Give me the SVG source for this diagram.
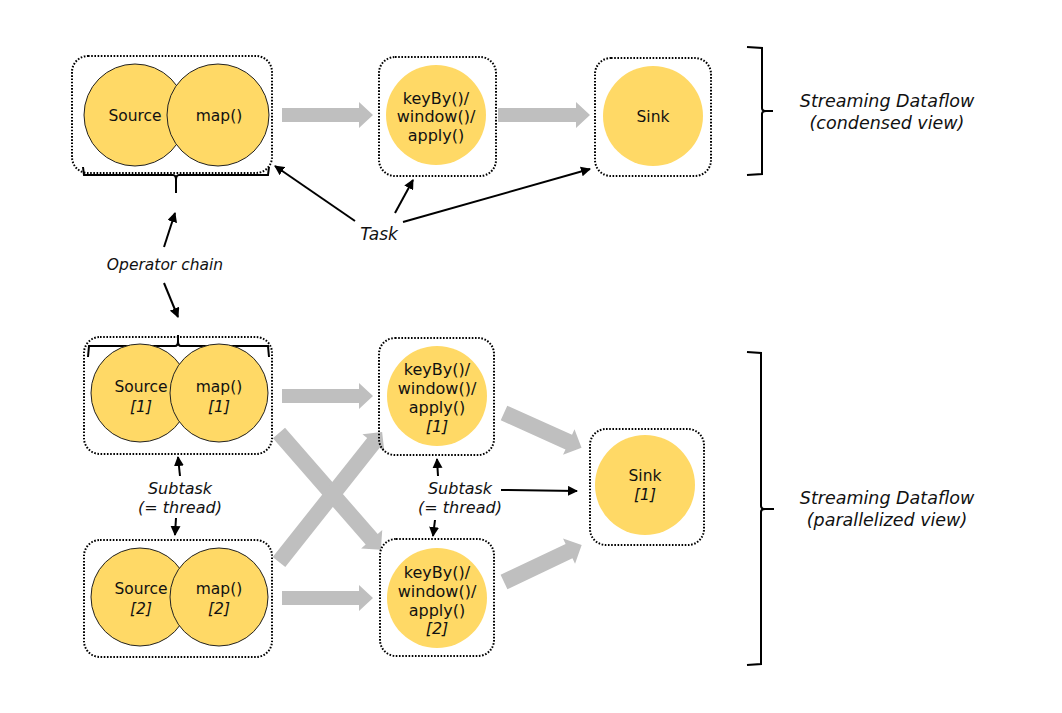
<svg xmlns="http://www.w3.org/2000/svg" width="1062" height="713" viewBox="0 0 1062 713">
<defs>
<style>
.box{fill:none;stroke:#000;stroke-width:2;stroke-dasharray:1.6 1.6}
.op{fill:#FFD966;stroke:#222;stroke-width:1}
.opn{fill:#FFD966;stroke:none}
.t{font-family:"DejaVu Sans",Verdana,sans-serif;font-size:15.5px;fill:#111;text-anchor:middle}
.k{font-family:"DejaVu Sans",Verdana,sans-serif;font-size:16px;fill:#111;text-anchor:middle}
.i{font-style:italic}
.lab{font-family:"DejaVu Sans",Verdana,sans-serif;font-style:italic;fill:#111;text-anchor:middle}
.ptr{fill:none;stroke:#000;stroke-width:2;marker-end:url(#ah)}
.brace{fill:none;stroke:#000;stroke-width:2}
.flow{fill:#BFBFBF}
</style>
<marker id="ah" viewBox="0 0 10 10" refX="9" refY="5" markerWidth="5" markerHeight="5" orient="auto" markerUnits="strokeWidth">
<path d="M0,0 L10,5 L0,10 z" fill="#000"/>
</marker>
</defs>
<rect width="1062" height="713" fill="#fff"/>

<g id="connectors">
<!-- gray dataflow arrows -->
<polygon class="flow" points="282,108 359,108 359,102 373,115 359,128 359,122 282,122"/>
<polygon class="flow" points="498,108 576,108 576,102 590,115 576,128 576,122 498,122"/>
<polygon class="flow" points="282,389 359,389 359,383 373,396 359,409 359,403 282,403"/>
<polygon class="flow" points="282,591 359,591 359,585 373,598 359,611 359,605 282,605"/>
<polygon class="flow" transform="translate(279,433) rotate(48.9)" points="0,-8 141,-8 141,-14 155,0 141,14 141,8 0,8"/>
<polygon class="flow" transform="translate(279,562) rotate(-51.6)" points="0,-8 152,-8 152,-14 166,0 152,14 152,8 0,8"/>
<polygon class="flow" transform="translate(504,413) rotate(24.2)" points="0,-8 71,-8 71,-14 85,0 71,14 71,8 0,8"/>
<polygon class="flow" transform="translate(504,582) rotate(-25.4)" points="0,-8 72,-8 72,-14 86,0 72,14 72,8 0,8"/>
<!-- annotation pointers -->
<line class="ptr" x1="355" y1="221" x2="275" y2="166"/>
<line class="ptr" x1="395" y1="213" x2="413" y2="180"/>
<line class="ptr" x1="403" y1="222" x2="590" y2="169"/>
<line class="ptr" x1="164" y1="247" x2="175" y2="213"/>
<line class="ptr" x1="164" y1="283" x2="178" y2="317"/>
<line class="ptr" x1="180" y1="476" x2="178" y2="457"/>
<line class="ptr" x1="176" y1="518" x2="175" y2="535"/>
<line class="ptr" x1="438" y1="476" x2="437" y2="459"/>
<line class="ptr" x1="435" y1="520" x2="433" y2="536"/>
<line class="ptr" x1="501" y1="490" x2="577" y2="491"/>
</g>

<g id="brace-chain-top">
<path class="brace" d="M83,167 L84,175 L173,175 Q176,175 176,180 L176,193 M176,180 Q176,175 179,175 L268,175 L269,167"/>
</g>
<g id="brace-chain-bottom">
<path class="brace" d="M88,357 L89,346 L175,346 Q178,346 178,341 L178,335 M178,341 Q178,346 181,346 L268,346 L269,357"/>
</g>
<g id="brace-condensed">
<path class="brace" d="M747,47 L762,48 L762,108 Q762,111 766,111 L773,111 M766,111 Q762,111 762,114 L762,174 L747,175"/>
</g>
<g id="brace-parallel">
<path class="brace" d="M747,352 L761,353 L761,506 Q761,509 765,509 L774,509 M765,509 Q761,509 761,512 L761,664 L747,665"/>
</g>

<g id="chain-top">
<rect class="box" x="72" y="56" width="200" height="117" rx="16"/>
<ellipse class="op" cx="135" cy="115" rx="51" ry="51"/>
<ellipse class="op" cx="218" cy="115" rx="51" ry="51"/>
<text class="t" x="135" y="121">Source</text>
<text class="t" x="219" y="121">map()</text>
</g>

<g id="keyby-top">
<rect class="box" x="379" y="57" width="117" height="119" rx="16"/>
<circle class="opn" cx="436" cy="115" r="50"/>
<text class="k" x="436" y="103.5">keyBy()/</text>
<text class="k" x="436" y="122">window()/</text>
<text class="k" x="436" y="140.5">apply()</text>
</g>

<g id="sink-top">
<rect class="box" x="595" y="58" width="116" height="118" rx="16"/>
<circle class="opn" cx="653" cy="116" r="50"/>
<text class="t" x="653" y="121.5">Sink</text>
</g>

<g id="label-condensed">
<text class="lab" font-size="17.5" x="887" y="107">Streaming Dataflow</text>
<text class="lab" font-size="17.5" x="887" y="129">(condensed view)</text>
</g>

<g id="label-task">
<text class="lab" font-size="17" x="379" y="240">Task</text>
</g>

<g id="label-opchain">
<text class="lab" font-size="15.5" x="165" y="270">Operator chain</text>
</g>

<g id="chain-1">
<rect class="box" x="84" y="337" width="188" height="117" rx="16"/>
<circle class="op" cx="140" cy="393" r="49"/>
<circle class="op" cx="219" cy="393" r="49"/>
<text class="t" x="141" y="392">Source</text>
<text class="t i" x="141" y="412">[1]</text>
<text class="t" x="219" y="392">map()</text>
<text class="t i" x="219" y="412">[1]</text>
</g>

<g id="chain-2">
<rect class="box" x="84" y="540" width="188" height="117" rx="16"/>
<circle class="op" cx="140" cy="597" r="49"/>
<circle class="op" cx="219" cy="597" r="49"/>
<text class="t" x="141" y="594">Source</text>
<text class="t i" x="141" y="614">[2]</text>
<text class="t" x="219" y="594">map()</text>
<text class="t i" x="219" y="614">[2]</text>
</g>

<g id="keyby-1">
<rect class="box" x="379" y="338" width="115" height="117" rx="16"/>
<circle class="opn" cx="437" cy="396" r="50"/>
<text class="k" x="437" y="375">keyBy()/</text>
<text class="k" x="437" y="394">window()/</text>
<text class="k" x="437" y="413">apply()</text>
<text class="k i" x="437" y="432">[1]</text>
</g>

<g id="keyby-2">
<rect class="box" x="380" y="539" width="114" height="117" rx="16"/>
<circle class="opn" cx="437" cy="598" r="50"/>
<text class="k" x="437" y="577.5">keyBy()/</text>
<text class="k" x="437" y="596.5">window()/</text>
<text class="k" x="437" y="615.5">apply()</text>
<text class="k i" x="437" y="634">[2]</text>
</g>

<g id="sink-1">
<rect class="box" x="590" y="429" width="114" height="116" rx="16"/>
<circle class="opn" cx="645" cy="485" r="50"/>
<text class="t" x="645" y="481">Sink</text>
<text class="t i" x="645" y="500">[1]</text>
</g>

<g id="label-subtask-left">
<text class="lab" font-size="16" x="180" y="494">Subtask</text>
<text class="lab" font-size="16" x="180" y="513">(= thread)</text>
</g>

<g id="label-subtask-mid">
<text class="lab" font-size="16" x="460" y="494">Subtask</text>
<text class="lab" font-size="16" x="460" y="513">(= thread)</text>
</g>

<g id="label-parallel">
<text class="lab" font-size="17.5" x="887" y="504">Streaming Dataflow</text>
<text class="lab" font-size="17.5" x="887" y="526">(parallelized view)</text>
</g>
</svg>
